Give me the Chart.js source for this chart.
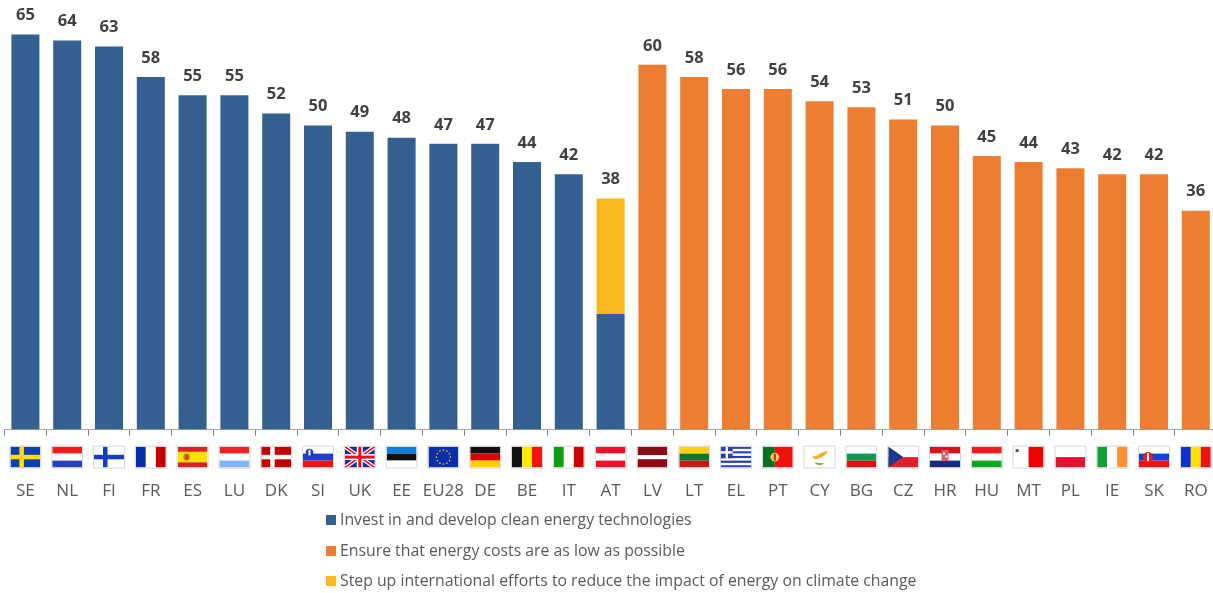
<!DOCTYPE html>
<html>
<head>
<meta charset="utf-8">
<title>Energy priorities by country</title>
<script src="https://cdn.jsdelivr.net/npm/chart.js@4/dist/chart.umd.min.js"></script>
<style>
  html, body { margin: 0; background: #fff; overflow: hidden; }
  #wrap { position: relative; width: 1213px; height: 593px; overflow: hidden; }
  #chart { position: absolute; left: 0; top: 0; }
  #legend { position: absolute; left: 326px; top: 504px; font: 15.8px "Open Sans", sans-serif; color: #595959; }
  #legend div { height: 30.5px; line-height: 30.5px; white-space: nowrap; }
  #legend i { display: inline-block; width: 10px; height: 10px; margin-right: 4px; }
</style>
</head>
<body>
<div id="wrap">
  <canvas id="chart"></canvas>
  <div id="legend"></div>
</div>
<script>
const countries = ['SE','NL','FI','FR','ES','LU','DK','SI','UK','EE','EU28','DE','BE','IT','AT',
  'LV','LT','EL','PT','CY','BG','CZ','HR','HU','MT','PL','IE','SK','RO'];
const investValues = [65,64,63,58,55,55,52,50,49,48,47,47,44,42,19,
  null,null,null,null,null,null,null,null,null,null,null,null,null,null];
const costValues = [null,null,null,null,null,null,null,null,null,null,null,null,null,null,null,
  60,58,56,56,54,53,51,50,45,44,43,42,42,36];
const climateValues = [null,null,null,null,null,null,null,null,null,null,null,null,null,null,19,
  null,null,null,null,null,null,null,null,null,null,null,null,null,null];

const seriesNames = ['Invest in and develop clean energy technologies',
  'Ensure that energy costs are as low as possible',
  'Step up international efforts to reduce the impact of energy on climate change'];
const seriesColors = ['#335f91', '#ed7d31', '#fbb81e'];

// flag painters, each draws into a 30x21 box at the origin
function hBands(g, colors, weights) {
  const w = weights || colors.map(() => 1);
  const total = w.reduce((a, b) => a + b, 0);
  let y = 0;
  colors.forEach((c, i) => {
    const h = 21 * w[i] / total;
    g.fillStyle = c;
    g.fillRect(0, y, 30, h);
    y += h;
  });
}
function vBands(g, colors, weights) {
  const w = weights || colors.map(() => 1);
  const total = w.reduce((a, b) => a + b, 0);
  let x = 0;
  colors.forEach((c, i) => {
    const d = 30 * w[i] / total;
    g.fillStyle = c;
    g.fillRect(x, 0, d, 21);
    x += d;
  });
}
function nordic(g, back, cross) {
  g.fillStyle = back;
  g.fillRect(0, 0, 30, 21);
  g.fillStyle = cross;
  g.fillRect(9, 0, 4.5, 21);
  g.fillRect(0, 8.2, 30, 4.5);
}
function crest(g, x, y, r, fill, mark) {
  g.fillStyle = fill;
  g.beginPath();
  g.arc(x, y, r, 0, Math.PI * 2);
  g.fill();
  g.fillStyle = mark;
  g.fillRect(x - 1, y - r + 1, 2, 2 * r - 2);
}

const flags = {
  SE: g => nordic(g, '#0b3fb0', '#ffe000'),
  NL: g => hBands(g, ['#f01c1c', '#fff', '#2a3fc0']),
  FI: g => nordic(g, '#fff', '#1040c0'),
  FR: g => vBands(g, ['#0a2ca8', '#fff', '#c40000']),
  ES: g => { hBands(g, ['#e0201c', '#ffe000', '#e0201c'], [1, 2, 1]); crest(g, 9, 10.5, 3.4, '#d8791c', '#c03a1c'); },
  LU: g => hBands(g, ['#f02020', '#fff', '#80b4ff']),
  DK: g => { nordic(g, '#c40000', '#fff'); },
  SI: g => { hBands(g, ['#fff', '#1e3cd0', '#f01010']); crest(g, 6.5, 6, 3.8, '#1e3cd0', '#fff'); },
  UK: g => {
    g.fillStyle = '#1a2a90';
    g.fillRect(0, 0, 30, 21);
    g.strokeStyle = '#fff';
    g.lineWidth = 4;
    g.beginPath(); g.moveTo(0, 0); g.lineTo(30, 21); g.moveTo(30, 0); g.lineTo(0, 21); g.stroke();
    g.strokeStyle = '#e01020';
    g.lineWidth = 1.5;
    g.beginPath(); g.moveTo(0, 0); g.lineTo(30, 21); g.moveTo(30, 0); g.lineTo(0, 21); g.stroke();
    g.fillStyle = '#fff';
    g.fillRect(12, 0, 6, 21);
    g.fillRect(0, 7.5, 30, 6);
    g.fillStyle = '#e01020';
    g.fillRect(13.5, 0, 3, 21);
    g.fillRect(0, 9, 30, 3);
  },
  EE: g => hBands(g, ['#1080e0', '#111', '#fff']),
  EU28: g => {
    g.fillStyle = '#0b2ea8';
    g.fillRect(0, 0, 30, 21);
    g.fillStyle = '#e8d020';
    for (let i = 0; i < 12; i++) {
      const a = i * Math.PI / 6;
      g.fillRect(15 + 7 * Math.cos(a) - 0.7, 10.5 + 7 * Math.sin(a) - 0.7, 1.4, 1.4);
    }
  },
  DE: g => hBands(g, ['#111', '#e00000', '#ffcc00']),
  BE: g => vBands(g, ['#111', '#ffe900', '#f81010']),
  IT: g => vBands(g, ['#0ca010', '#fff', '#d00000']),
  AT: g => hBands(g, ['#f0102a', '#fff', '#f0102a']),
  LV: g => hBands(g, ['#8b0a14', '#fff', '#8b0a14'], [2, 1, 2]),
  LT: g => hBands(g, ['#ffd010', '#0a7a2a', '#c81818']),
  EL: g => {
    hBands(g, ['#2a3fb8', '#fff', '#2a3fb8', '#fff', '#2a3fb8', '#fff', '#2a3fb8', '#fff', '#2a3fb8']);
    g.fillStyle = '#2a3fb8';
    g.fillRect(0, 0, 11.7, 11.7);
    g.fillStyle = '#fff';
    g.fillRect(4.6, 0, 2.4, 11.7);
    g.fillRect(0, 4.6, 11.7, 2.4);
  },
  PT: g => { vBands(g, ['#0a6e20', '#f01010'], [2, 3]); crest(g, 12, 10.5, 4.4, '#e8d060', '#c02020'); },
  CY: g => {
    g.fillStyle = '#fff';
    g.fillRect(0, 0, 30, 21);
    g.fillStyle = '#f0b030';
    g.beginPath();
    g.moveTo(7, 10); g.quadraticCurveTo(13, 10, 15, 7); g.lineTo(24, 4);
    g.lineTo(20, 9); g.quadraticCurveTo(15, 13, 10, 12.5);
    g.fill();
    g.fillStyle = '#78b040';
    g.beginPath();
    g.arc(15, 12, 6.5, 0.25 * Math.PI, 0.8 * Math.PI);
    g.fill();
  },
  BG: g => hBands(g, ['#fff', '#109a50', '#e01010']),
  CZ: g => {
    hBands(g, ['#fff', '#e0202c']);
    g.fillStyle = '#1a3a90';
    g.beginPath(); g.moveTo(0, 0); g.lineTo(15, 10.5); g.lineTo(0, 21); g.fill();
  },
  HR: g => {
    hBands(g, ['#d8101c', '#fff', '#1a2a80']);
    g.fillStyle = '#d8606c';
    g.fillRect(11.5, 3.5, 7, 11);
    g.fillStyle = '#fff';
    g.fillRect(13, 6, 2, 2);
    g.fillRect(15.5, 9, 2, 2);
  },
  HU: g => hBands(g, ['#f01818', '#fff', '#10a820']),
  MT: g => {
    vBands(g, ['#fff', '#f00000']);
    g.fillStyle = '#555';
    g.fillRect(2, 2.5, 3, 3);
  },
  PL: g => hBands(g, ['#fff', '#e81030']),
  IE: g => vBands(g, ['#10a030', '#fff', '#ff9030']),
  SK: g => { hBands(g, ['#fff', '#1040e0', '#f01010']); crest(g, 9, 10.5, 5, '#e02020', '#fff'); },
  RO: g => vBands(g, ['#1030d0', '#ffe000', '#f01010'])
};

// flags sit in the gap between the axis and its labels, centred on each category
const flagRow = {
  id: 'flagRow',
  afterDraw(chart) {
    const g = chart.ctx;
    const x = chart.scales.x;
    const top = chart.chartArea.bottom + 17;
    countries.forEach((code, i) => {
      const left = x.getPixelForValue(i) - 15;
      g.save();
      g.translate(left, top);
      g.beginPath();
      g.rect(0, 0, 30, 21);
      g.save();
      g.clip();
      flags[code](g);
      g.restore();
      g.strokeStyle = '#d8d8d8';
      g.lineWidth = 1;
      g.strokeRect(-0.5, -0.5, 31, 22);
      g.restore();
    });
  }
};

// stack totals printed over each column
const totalLabels = {
  id: 'totalLabels',
  afterDatasetsDraw(chart) {
    const g = chart.ctx;
    const x = chart.scales.x;
    const y = chart.scales.y;
    g.save();
    g.font = 'bold 16.5px "Open Sans", sans-serif';
    g.fillStyle = '#404040';
    g.textAlign = 'center';
    g.textBaseline = 'middle';
    countries.forEach((code, i) => {
      const total = (investValues[i] || 0) + (costValues[i] || 0) + (climateValues[i] || 0);
      g.fillText(total, x.getPixelForValue(i), y.getPixelForValue(total) - 19);
    });
    g.restore();
  }
};

const canvas = document.getElementById('chart');
canvas.width = 1230;
canvas.height = 552;

new Chart(canvas, {
  type: 'bar',
  data: {
    labels: countries,
    datasets: [
      { label: seriesNames[0], data: investValues, backgroundColor: seriesColors[0] },
      { label: seriesNames[1], data: costValues, backgroundColor: seriesColors[1] },
      { label: seriesNames[2], data: climateValues, backgroundColor: seriesColors[2] }
    ]
  },
  options: {
    responsive: false,
    animation: false,
    layout: { padding: { left: 4.5, right: 13.3, top: 4, bottom: 6 } },
    categoryPercentage: 0.67,
    barPercentage: 1,
    plugins: { legend: { display: false }, tooltip: { enabled: false } },
    scales: {
      x: {
        stacked: true,
        grid: { drawOnChartArea: false, color: '#808080', tickLength: 6 },
        border: { color: '#a6a6a6' },
        ticks: { color: '#595959', font: { family: '"Open Sans", sans-serif', size: 17 }, padding: 45, maxRotation: 0, autoSkip: false },
        // the big tick padding only pushes labels down, it should not narrow the plot
        afterFit(scale) {
          scale.paddingLeft = 0;
          scale.paddingRight = 0;
        }
      },
      y: { stacked: true, display: false, min: 0, max: 70 }
    }
  },
  plugins: [totalLabels, flagRow]
});

document.getElementById('legend').innerHTML = seriesNames.map((name, i) =>
  '<div><i style="background:' + seriesColors[i] + '"></i>' + name + '</div>').join('');
</script>
</body>
</html>
